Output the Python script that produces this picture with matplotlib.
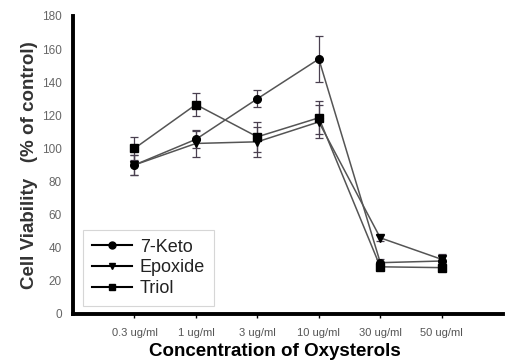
import matplotlib
matplotlib.use("Agg")
import matplotlib.pyplot as plt
from matplotlib.lines import Line2D

categories = ["0.3 ug/ml", "1 ug/ml", "3 ug/ml", "10 ug/ml", "30 ug/ml", "50 ug/ml"]
keto = [90, 105.5, 130, 154, 31, 32]
keto_err = [6, 5, 5, 14, 2, 3]
epoxide = [90, 103, 104, 116, 46, 33]
epoxide_err = [6, 8, 9, 10, 2, 3]
triol = [100, 126.5, 107, 118.5, 28.5, 28]
triol_err = [7, 7, 9, 10, 2, 2]
yticks = list(range(0, 181, 20))

plt.rcParams['font.family'] = ['Liberation Sans', 'DejaVu Sans']

fig = plt.figure(figsize=(5.14, 3.63), dpi=100)
ax = fig.add_axes([0.142, 0.135, 0.837, 0.821])

x = list(range(1, len(categories) + 1))
line_col = '#555555'
err_col = '#4a4050'
series = [(keto, keto_err, 'o', '7-Keto', 5.5),
          (epoxide, epoxide_err, 'v', 'Epoxide', 6),
          (triol, triol_err, 's', 'Triol', 5.5)]
for vals, err, mk, lab, ms in series:
    ax.errorbar(x, vals, yerr=err, fmt='none', ecolor=err_col, elinewidth=0.9,
                capsize=3, capthick=0.9, zorder=2)
    ax.plot(x, vals, '-', color=line_col, lw=1.1, zorder=3)
    ax.plot(x, vals, mk, color='black', ms=ms, zorder=4)

ax.set_xlim(0, 7)
ax.set_ylim(0, 180)
ax.set_xticks(x)
ax.set_xticklabels(categories)
ax.set_yticks(yticks)
ax.tick_params(axis='x', labelsize=8, labelcolor='#555555', length=3, width=1, color='black', pad=7)
ax.tick_params(axis='y', labelsize=8.5, labelcolor='#666666', length=0, pad=8)
for s in ['top', 'right']:
    ax.spines[s].set_visible(False)
for s in ['left', 'bottom']:
    ax.spines[s].set_linewidth(2.8)

ax.set_xlabel("Concentration of Oxysterols", fontsize=13.5, fontweight='bold')
ax.xaxis.set_label_coords(0.47, -0.097)
ax.set_ylabel("Cell Viability   (% of control)", fontsize=13.5, fontweight='bold', color='#333333', labelpad=3)

handles = [Line2D([], [], color='black', lw=1.5, marker=m, ms=5) for m in ['o', 'v', 's']]
leg = ax.legend(handles, ['7-Keto', 'Epoxide', 'Triol'], loc='lower left',
                bbox_to_anchor=(0.023, 0.027), borderaxespad=0, fontsize=13, frameon=True,
                fancybox=False, handlelength=2.2, handletextpad=0.45, labelspacing=0.2,
                borderpad=0.5, edgecolor='#cccccc')
leg.get_frame().set_linewidth(0.8)
for t in leg.get_texts():
    t.set_color('#222222')

fig.savefig("out.png", dpi=100)
